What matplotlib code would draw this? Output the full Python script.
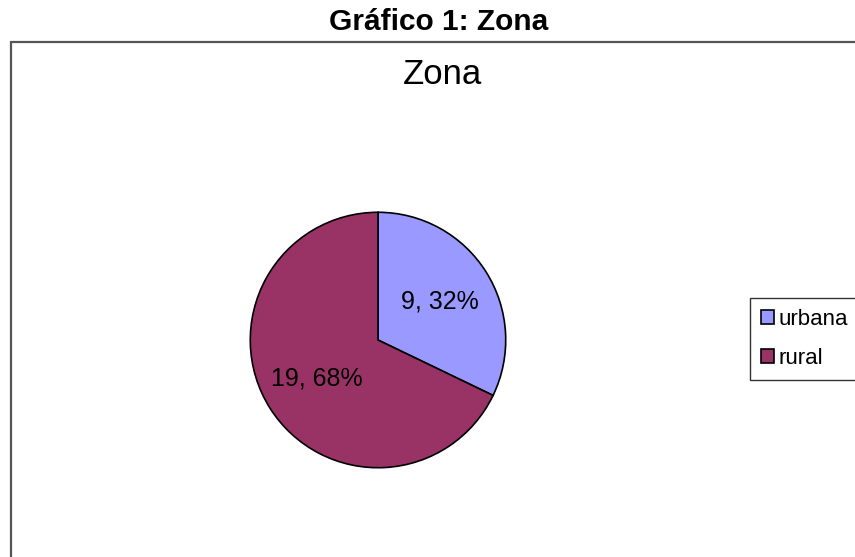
import matplotlib
matplotlib.use("Agg")
import matplotlib.pyplot as plt
from matplotlib.patches import Rectangle

# datos del grafico
zonas = ['urbana', 'rural']
cantidades = [9, 19]
colores = ['#9999FF', '#993366']

plt.rcParams['font.family'] = ['Liberation Sans', 'DejaVu Sans']

W, H = 855, 557
fig = plt.figure(figsize=(W / 100, H / 100), dpi=100)
fig.patch.set_facecolor('white')

# marco del area del grafico (cortado a la derecha y abajo)
marco = Rectangle((11 / W, -0.1), 1.5, (H - 42) / H + 0.1, transform=fig.transFigure,
                  fill=False, edgecolor='#555555', linewidth=1.6)
fig.patches.append(marco)

fig.text(439 / W, 1 - 22 / H, 'Gráfico 1: Zona', ha='center', va='center',
         fontsize=21.5, fontweight='bold')
fig.text(442 / W, 1 - 75 / H, 'Zona', ha='center', va='center', fontsize=25)

# pastel
cx, cy, r = 378, 340, 129
ax = fig.add_axes([(cx - r) / W, (H - cy - r) / H, 2 * r / W, 2 * r / H])
total = sum(cantidades)


def etiqueta(pct):
    n = int(round(pct * total / 100))
    return f'{n}, {pct:.0f}%'


wedges, textos, auto = ax.pie(cantidades, colors=colores, startangle=90, counterclock=False,
                              autopct=etiqueta, pctdistance=0.57,
                              wedgeprops=dict(edgecolor='black', linewidth=1.2),
                              textprops=dict(fontsize=18, color='black'))
ax.set_xlim(-1.01, 1.01)
ax.set_ylim(-1.01, 1.01)
ax.set_aspect('equal')
ax.axis('off')

leg = fig.legend(wedges, zonas, loc='upper left', bbox_to_anchor=(750 / W, 1 - 298 / H),
                 bbox_transform=fig.transFigure, fontsize=16, frameon=True, fancybox=False,
                 edgecolor='black', handlelength=0.6, handleheight=0.6, handletextpad=0.2,
                 labelspacing=0.8, borderpad=0.5, borderaxespad=0)
leg.get_frame().set_linewidth(1.0)

fig.savefig('out.png', dpi=100)
